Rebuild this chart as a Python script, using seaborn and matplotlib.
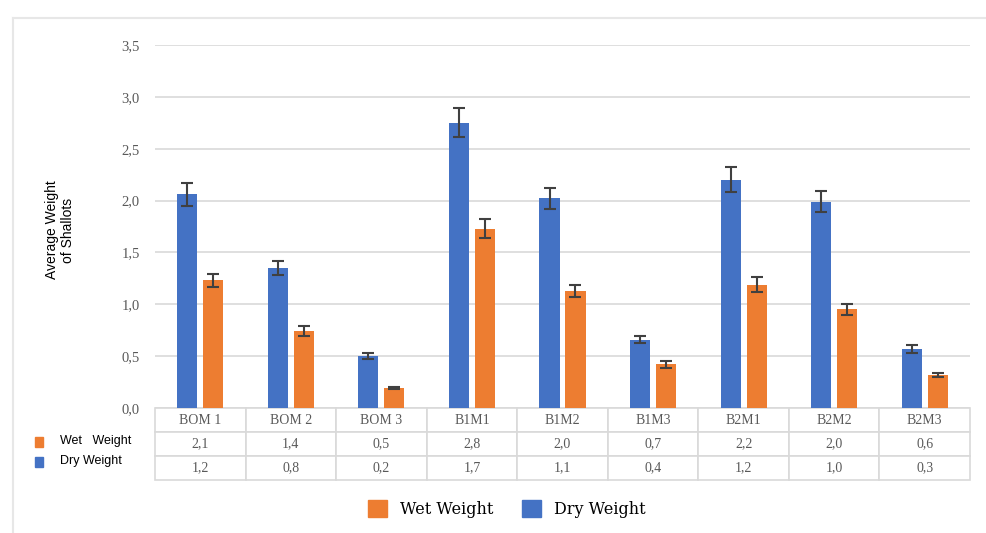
import matplotlib
matplotlib.use("Agg")
import matplotlib.pyplot as plt
import matplotlib.patches as mpatches
import pandas as pd
import seaborn as sns

categories = ["BOM1", "BOM2", "BOM3", "B1M1", "B1M2", "B1M3", "B2M1", "B2M2", "B2M3"]
tick_labels = ["BOM 1", "BOM 2", "BOM 3", "B1M1", "B1M2", "B1M3", "B2M1", "B2M2", "B2M3"]

# blue bars (legend: Dry Weight) and orange bars (legend: Wet Weight)
dry_weight = [2.06, 1.35, 0.50, 2.75, 2.02, 0.66, 2.20, 1.99, 0.57]
dry_err = [0.11, 0.07, 0.03, 0.14, 0.10, 0.03, 0.12, 0.10, 0.04]
wet_weight = [1.23, 0.74, 0.19, 1.73, 1.13, 0.42, 1.19, 0.95, 0.32]
wet_err = [0.06, 0.05, 0.01, 0.09, 0.06, 0.03, 0.07, 0.05, 0.02]

# data table rows as printed under the chart
table_wet_row = ["2,1", "1,4", "0,5", "2,8", "2,0", "0,7", "2,2", "2,0", "0,6"]
table_dry_row = ["1,2", "0,8", "0,2", "1,7", "1,1", "0,4", "1,2", "1,0", "0,3"]

blue = "#4472C4"
orange = "#ED7D31"
grid_c = "#D9D9D9"
text_c = "#595959"

df = pd.DataFrame({
    "cat": categories * 2,
    "weight": dry_weight + wet_weight,
    "series": ["Dry Weight"] * 9 + ["Wet Weight"] * 9,
})

fig = plt.figure(figsize=(9.86, 5.33), dpi=100)
W, H = 986, 533
ax = fig.add_axes([155 / W, (H - 408) / H, (970 - 155) / W, (408 - 45) / H])

sns.barplot(data=df, x="cat", y="weight", hue="series", order=categories,
            hue_order=["Dry Weight", "Wet Weight"], palette=[blue, orange],
            saturation=1, width=0.574, gap=0.23, errorbar=None, ax=ax, legend=False)

# error bars on top of each bar, using the bar positions seaborn chose
n = len(categories)
errs = dry_err + wet_err
for p, e in zip(ax.patches[:2 * n], errs):
    xc = p.get_x() + p.get_width() / 2
    ax.errorbar(xc, p.get_height(), yerr=e, fmt="none", ecolor="#404040",
                elinewidth=1.5, capsize=4, capthick=1.5, zorder=5)

ax.set_ylim(0, 3.5)
ax.set_xlim(-0.5, n - 0.5)
ax.set_yticks([0, 0.5, 1.0, 1.5, 2.0, 2.5, 3.0, 3.5])
ax.set_yticklabels(["0,0", "0,5", "1,0", "1,5", "2,0", "2,5", "3,0", "3,5"],
                   family="Liberation Serif", fontsize=10.5, color=text_c)
ax.set_xticks([])
ax.set_xlabel("")
ax.set_ylabel("")
ax.grid(axis="y", color=grid_c, linewidth=1.2)
ax.set_axisbelow(True)
for s in ax.spines.values():
    s.set_visible(False)
ax.tick_params(axis="y", length=0, pad=11)

# data table under the plot
tbl = ax.table(cellText=[table_wet_row, table_dry_row], colLabels=tick_labels,
               cellLoc="center", bbox=[0, -72 / 363, 1, 72 / 363])
tbl.auto_set_font_size(False)
for (r, c), cell in tbl.get_celld().items():
    cell.set_edgecolor(grid_c)
    cell.set_linewidth(1.2)
    cell.get_text().set_fontfamily("Liberation Serif")
    cell.get_text().set_fontsize(10)
    cell.get_text().set_color(text_c)

# row labels with colour keys
fig.patches.append(mpatches.Rectangle((35 / W, 1 - 447 / H), 8 / W, 10 / H,
                                      color=orange, transform=fig.transFigure))
fig.patches.append(mpatches.Rectangle((35 / W, 1 - 467 / H), 8 / W, 10 / H,
                                      color=blue, transform=fig.transFigure))
fig.text(60 / W, 1 - 441 / H, "Wet   Weight", fontsize=9, family="Liberation Sans",
         va="center", ha="left")
fig.text(60 / W, 1 - 461 / H, "Dry Weight", fontsize=9, family="Liberation Sans",
         va="center", ha="left")

# y label
fig.text(60 / W, 1 - 230 / H, "Average Weight\nof Shallots", rotation=90,
         fontsize=10, family="Liberation Sans", ha="center", va="center",
         multialignment="center")

# bottom legend
handles = [mpatches.Patch(color=orange, label="Wet Weight"),
           mpatches.Patch(color=blue, label="Dry Weight")]
fig.legend(handles=handles, loc="center", bbox_to_anchor=(507 / W, 1 - 509 / H),
           ncol=2, frameon=False, prop={"family": "DejaVu Serif", "size": 11.5},
           handlelength=1.2, handleheight=1.2, columnspacing=1.8, handletextpad=0.8)

# outer frame (top and left edges)
fig.add_artist(plt.Line2D([13 / W, 13 / W], [0, 1 - 18 / H], color="#E7E7E7",
                          linewidth=1.5, transform=fig.transFigure))
fig.add_artist(plt.Line2D([13 / W, 1], [1 - 18 / H, 1 - 18 / H], color="#E7E7E7",
                          linewidth=1.5, transform=fig.transFigure))

fig.savefig("out.png", dpi=100, facecolor="white")
